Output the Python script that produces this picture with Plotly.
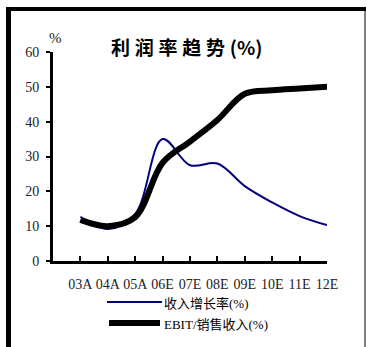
import plotly.graph_objects as go

categories = ["03A", "04A", "05A", "06E", "07E", "08E", "09E", "10E", "11E", "12E"]
revenue_growth = [12.7, 9.2, 13.5, 35.0, 27.5, 28.0, 21.5, 16.8, 12.9, 10.3]
ebit_margin = [11.8, 10.0, 12.6, 28.2, 34.3, 40.5, 48.0, 49.0, 49.5, 50.0]
y_ticks = [0, 10, 20, 30, 40, 50, 60]

W, H = 367, 347
L, R, T, B = 53, 327, 52, 261  # plot area in pixels


def px(x):
    return (x - L) / (R - L)


def py(y):
    return (B - y) / (B - T)


serif = "Liberation Serif"
cjk = "Noto Sans CJK SC"

fig = go.Figure()
fig.add_trace(go.Scatter(
    x=categories, y=revenue_growth, mode="lines", name="收入增长率(%)",
    line=dict(color="#000080", width=2, shape="spline", smoothing=1.0),
    showlegend=False,
))
fig.add_trace(go.Scatter(
    x=categories, y=ebit_margin, mode="lines", name="EBIT/销售收入(%)",
    line=dict(color="#000000", width=6, shape="spline", smoothing=1.0),
    showlegend=False,
))

shapes = [
    # frame
    dict(type="rect", xref="paper", yref="paper", x0=px(6), x1=px(366), y0=py(7), y1=py(11),
         fillcolor="black", line=dict(width=0)),
    dict(type="rect", xref="paper", yref="paper", x0=px(6), x1=px(11), y0=py(7), y1=py(348),
         fillcolor="black", line=dict(width=0)),
    dict(type="rect", xref="paper", yref="paper", x0=px(364.5), x1=px(365.5), y0=py(7), y1=py(348),
         fillcolor="black", line=dict(width=0)),
    # legend samples
    dict(type="line", xref="paper", yref="paper", x0=px(107), x1=px(162), y0=py(302), y1=py(302),
         line=dict(color="#000080", width=2)),
    dict(type="line", xref="paper", yref="paper", x0=px(109), x1=px(160), y0=py(323), y1=py(323),
         line=dict(color="#000000", width=6)),
]

annotations = [
    dict(text="<b>利\u2005润\u2005率\u2005趋\u2005势\u2005(%)</b>", xref="paper", yref="paper",
         x=px(186), y=py(46), xanchor="center", yanchor="middle", showarrow=False,
         font=dict(family=cjk, size=19, color="black")),
    dict(text="%", xref="paper", yref="paper", x=px(55), y=py(38), xanchor="center",
         yanchor="middle", showarrow=False, font=dict(family=serif, size=15, color="#222")),
    dict(text="收入增长率<span style='font-family:Liberation Serif'>(%)</span>",
         xref="paper", yref="paper", x=px(162), y=py(302),
         xanchor="left", yanchor="middle", showarrow=False,
         font=dict(family=cjk, size=13, color="black")),
    dict(text="<span style='font-family:Liberation Serif'>EBIT/</span>销售收入"
              "<span style='font-family:Liberation Serif'>(%)</span>",
         xref="paper", yref="paper", x=px(162), y=py(323),
         xanchor="left", yanchor="middle", showarrow=False,
         font=dict(family=cjk, size=13, color="black")),
]

fig.update_layout(
    width=W, height=H,
    margin=dict(l=L, r=W - R, t=T, b=H - B, pad=0),
    paper_bgcolor="white", plot_bgcolor="white",
    shapes=shapes, annotations=annotations,
    showlegend=False,
)
fig.update_xaxes(
    type="category", range=[-1, 9], showgrid=False, zeroline=False,
    showline=True, linecolor="black", linewidth=3,
    ticks="inside", ticklen=5, tickwidth=2, tickcolor="black",
    tickfont=dict(family=serif, size=14, color="#222"), ticklabelstandoff=8,
)
fig.update_yaxes(
    range=[0, 60], tickvals=y_ticks, showgrid=False, zeroline=False,
    showline=True, linecolor="black", linewidth=3,
    ticks="outside", ticklen=4, tickwidth=2, tickcolor="black",
    tickfont=dict(family=serif, size=14, color="#222"), ticklabelstandoff=4,
)

fig.write_html(
    "out.html",
    config={"displayModeBar": False},
    post_script="document.body.style.margin='0';document.body.style.overflow='hidden';",
)
